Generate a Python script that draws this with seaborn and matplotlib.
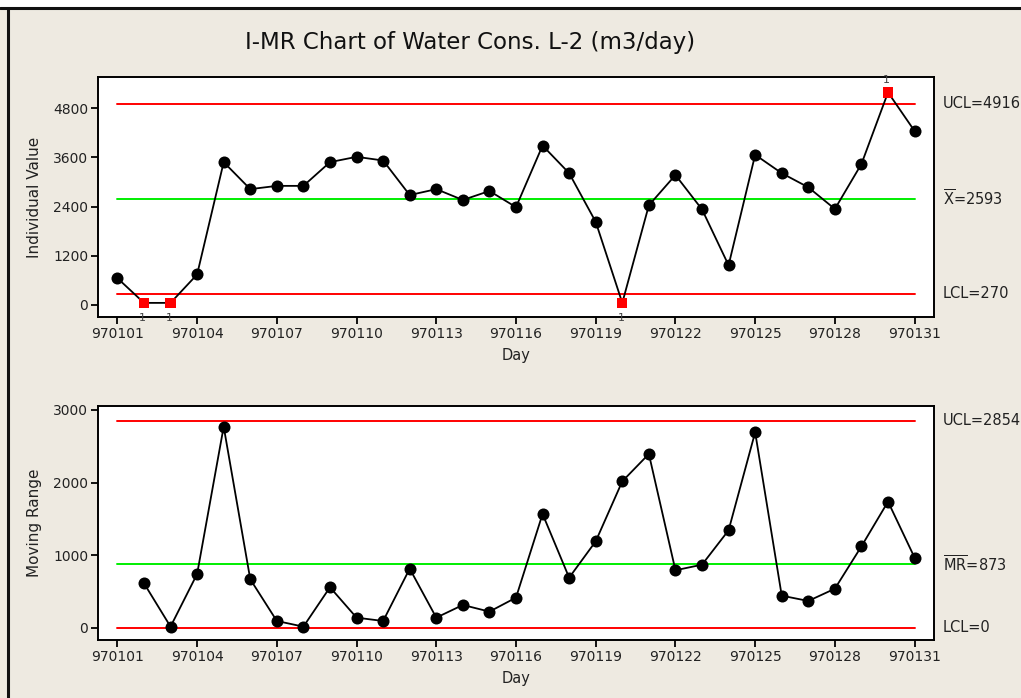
import pandas as pd
import matplotlib
matplotlib.use('Agg')
import matplotlib.pyplot as plt
import seaborn as sns
from matplotlib.lines import Line2D
from matplotlib.patches import Rectangle

days = ['970101', '970102', '970103', '970104', '970105', '970106', '970107', '970108',
        '970109', '970110', '970111', '970112', '970113', '970114', '970115', '970116',
        '970117', '970118', '970119', '970120', '970121', '970122', '970123', '970124',
        '970125', '970126', '970127', '970128', '970129', '970130', '970131']

individual = [650, 45, 45, 740, 3485, 2825, 2905, 2905, 3485, 3615, 3525, 2680, 2825, 2560,
              2780, 2385, 3890, 3215, 2025, 45, 2430, 3170, 2330, 965, 3665, 3215, 2870,
              2340, 3440, 5190, 4245]

moving_range = [612, 14, 740, 2770, 667, 92, 14, 557, 138, 92, 813, 138, 313, 221, 414,
                1567, 689, 1190, 2017, 2394, 791, 868, 1342, 2693, 441, 368, 537, 1121,
                1737, 965]

i_limits = {'UCL': 4916, 'CL': 2593, 'LCL': 270}
mr_limits = {'UCL': 2854, 'CL': 873, 'LCL': 0}
i_fail_days = [2, 3, 20, 30]
i_fail_above = [30]

tick_days = [1, 4, 7, 10, 13, 16, 19, 22, 25, 28, 31]
i_yticks = [0, 1200, 2400, 3600, 4800]
mr_yticks = [0, 1000, 2000, 3000]

BG = '#EEEAE1'
FONT = 'DejaVu Sans'
TXT = '#222222'

sns.set_style('white')
plt.rcParams['font.family'] = [FONT]
plt.rcParams['mathtext.fontset'] = 'dejavusans'

fig = plt.figure(figsize=(10.21, 6.98), dpi=100, facecolor=BG)

# window border bits from the screenshot
fig.patches.append(Rectangle((0, 1 - 7 / 698), 1, 7 / 698, transform=fig.transFigure,
                             facecolor='white', edgecolor='none', zorder=0))
fig.lines.append(Line2D([0, 1], [1 - 8 / 698, 1 - 8 / 698], transform=fig.transFigure,
                        color='#111111', linewidth=2.2))
fig.lines.append(Line2D([8 / 1021, 8 / 1021], [0, 1 - 8 / 698], transform=fig.transFigure,
                        color='#111111', linewidth=2.2))

fig.text(470 / 1021, 1 - 42 / 698, 'I-MR Chart of Water Cons. L-2 (m3/day)', ha='center',
         va='center', fontsize=16.5, color='#111111')

ax1 = fig.add_axes([98 / 1021, 1 - 317 / 698, 836 / 1021, 240 / 698])
ax2 = fig.add_axes([98 / 1021, 1 - 640 / 698, 836 / 1021, 234 / 698])

i_df = pd.DataFrame({'day': range(1, len(individual) + 1), 'value': individual})
mr_df = pd.DataFrame({'day': range(2, len(moving_range) + 2), 'value': moving_range})


def draw_panel(ax, df, limits, ylabel, fail_days, cl_label):
    first, last = 1, len(days)
    for key, col in [('UCL', '#FF0000'), ('CL', '#00EE00'), ('LCL', '#FF0000')]:
        ax.plot([first, last], [limits[key], limits[key]], color=col, linewidth=1.4, zorder=1)
    sns.lineplot(data=df, x='day', y='value', ax=ax, color='black', linewidth=1.3, zorder=2)
    ok = df[~df['day'].isin(fail_days)]
    bad = df[df['day'].isin(fail_days)]
    sns.scatterplot(data=ok, x='day', y='value', ax=ax, color='black', s=75,
                    edgecolor='black', linewidth=0, zorder=3)
    if len(bad):
        sns.scatterplot(data=bad, x='day', y='value', ax=ax, color='#FF0000', marker='s',
                        s=55, edgecolor='none', linewidth=0, zorder=4)
        for d, v in zip(bad['day'], bad['value']):
            off = 9 if d in i_fail_above else -11
            ax.annotate('1', (d, v), xytext=(-1, off), textcoords='offset points',
                        ha='center', va='center', fontsize=8, color='#444444',
                        annotation_clip=False)

    ax.set_xlim(0.27, 31.73)
    ax.set_xticks(tick_days)
    ax.set_xticklabels([days[d - 1] for d in tick_days])
    ax.set_xlabel('Day', fontsize=10.5, labelpad=5, color=TXT)
    ax.set_ylabel(ylabel, fontsize=11, labelpad=8, color=TXT)
    ax.set_facecolor('white')
    for sp in ax.spines.values():
        sp.set_visible(True)
        sp.set_color('black')
        sp.set_linewidth(1.4)
    ax.tick_params(axis='both', direction='out', length=5, width=1.3, color='black',
                   labelsize=10, labelcolor=TXT, pad=2, bottom=True, left=True)

    x_txt = 1 + 9 / 836
    ax.text(x_txt, limits['UCL'], 'UCL=' + str(limits['UCL']),
            transform=ax.get_yaxis_transform(), va='center', ha='left', fontsize=10.5,
            color=TXT)
    ax.text(x_txt, limits['CL'], cl_label,
            transform=ax.get_yaxis_transform(), va='center', ha='left', fontsize=10.5,
            color=TXT)
    ax.text(x_txt, limits['LCL'], 'LCL=' + str(limits['LCL']),
            transform=ax.get_yaxis_transform(), va='center', ha='left', fontsize=10.5,
            color=TXT)


draw_panel(ax1, i_df, i_limits, 'Individual Value', i_fail_days,
           r'$\overline{\mathrm{X}}$=' + str(i_limits['CL']))
ax1.set_ylim(-300, 5566)
ax1.set_yticks(i_yticks)

draw_panel(ax2, mr_df, mr_limits, 'Moving Range', [],
           r'$\overline{\mathrm{MR}}$=' + str(mr_limits['CL']))
ax2.set_ylim(-170, 3055)
ax2.set_yticks(mr_yticks)

plt.savefig('out.png', dpi=100, facecolor=BG)
